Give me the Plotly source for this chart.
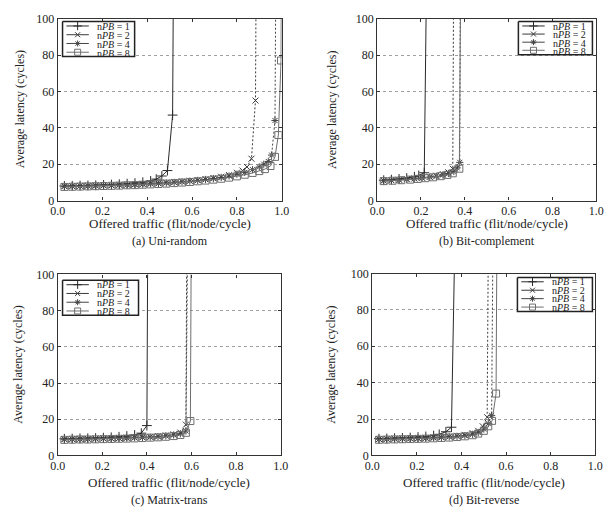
import plotly.graph_objects as go

# ---------------- data ----------------
labels = ["n<i>PB</i> = 1", "n<i>PB</i> = 2", "n<i>PB</i> = 4", "n<i>PB</i> = 8"]
captions = ["(a) Uni-random", "(b) Bit-complement", "(c) Matrix-trans", "(d) Bit-reverse"]
x_ticks = [0.0, 0.2, 0.4, 0.6, 0.8, 1.0]
y_ticks = [0, 20, 40, 60, 80, 100]

# (a) Uni-random
a1_x = [0.03, 0.065, 0.10, 0.135, 0.17, 0.205, 0.24, 0.275, 0.31, 0.345, 0.38, 0.415, 0.44, 0.465, 0.49, 0.513, 0.518]
a1_y = [8.0, 8.1, 8.2, 8.3, 8.4, 8.6, 8.8, 9.0, 9.3, 9.6, 10.1, 10.8, 11.8, 13.5, 16.5, 47, 150]
a2_x = [0.03, 0.065, 0.10, 0.135, 0.17, 0.205, 0.24, 0.275, 0.31, 0.345, 0.38, 0.415, 0.45, 0.485, 0.52, 0.555, 0.59, 0.625, 0.66, 0.695, 0.73, 0.765, 0.80, 0.825, 0.845, 0.865, 0.883, 0.887]
a2_y = [8.0, 8.0, 8.1, 8.2, 8.3, 8.4, 8.5, 8.7, 8.8, 9.0, 9.2, 9.4, 9.6, 9.9, 10.2, 10.5, 10.9, 11.3, 11.8, 12.4, 13.1, 14.0, 15.3, 16.5, 18.5, 23, 55, 150]
a4_x = [0.03, 0.065, 0.10, 0.135, 0.17, 0.205, 0.24, 0.275, 0.31, 0.345, 0.38, 0.415, 0.45, 0.485, 0.52, 0.555, 0.59, 0.625, 0.66, 0.695, 0.73, 0.765, 0.80, 0.835, 0.87, 0.90, 0.92, 0.94, 0.955, 0.97, 0.975]
a4_y = [7.8, 7.9, 8.0, 8.0, 8.1, 8.2, 8.3, 8.5, 8.6, 8.8, 9.0, 9.2, 9.4, 9.7, 10.0, 10.3, 10.7, 11.1, 11.6, 12.1, 12.7, 13.5, 14.5, 15.5, 17.0, 18.5, 20.0, 21.5, 25, 44, 150]
a8_x = [0.03, 0.065, 0.10, 0.135, 0.17, 0.205, 0.24, 0.275, 0.31, 0.345, 0.38, 0.415, 0.45, 0.485, 0.52, 0.555, 0.59, 0.625, 0.66, 0.695, 0.73, 0.765, 0.80, 0.835, 0.87, 0.90, 0.925, 0.95, 0.97, 0.985, 0.997, 1.0]
a8_y = [7.5, 7.6, 7.7, 7.8, 7.9, 8.0, 8.1, 8.2, 8.4, 8.5, 8.7, 8.9, 9.1, 9.3, 9.6, 9.9, 10.2, 10.6, 11.0, 11.5, 12.0, 12.6, 13.3, 14.2, 15.2, 16.2, 17.3, 19, 24, 36, 77, 150]

# (b) Bit-complement
b1_x = [0.03, 0.065, 0.10, 0.135, 0.17, 0.19, 0.215, 0.228]
b1_y = [11.2, 11.5, 11.9, 12.4, 13.1, 13.8, 15.3, 150]
b2_x = [0.03, 0.065, 0.10, 0.135, 0.17, 0.205, 0.24, 0.27, 0.30, 0.325, 0.345, 0.35]
b2_y = [11.0, 11.2, 11.5, 11.8, 12.2, 12.6, 13.1, 13.7, 14.5, 15.5, 17.5, 150]
b4_x = [0.03, 0.065, 0.10, 0.135, 0.17, 0.205, 0.24, 0.27, 0.30, 0.325, 0.35, 0.365, 0.377, 0.38]
b4_y = [10.9, 11.1, 11.4, 11.7, 12.0, 12.4, 12.9, 13.4, 14.1, 14.9, 16.0, 18.0, 21.0, 150]
b8_x = [0.03, 0.07, 0.11, 0.15, 0.185, 0.22, 0.255, 0.29, 0.32, 0.345, 0.375, 0.383]
b8_y = [10.7, 10.9, 11.2, 11.5, 11.9, 12.3, 12.8, 13.4, 14.1, 15.0, 17.5, 150]

# (c) Matrix-trans
c1_x = [0.03, 0.065, 0.10, 0.135, 0.17, 0.205, 0.24, 0.275, 0.31, 0.345, 0.375, 0.40, 0.405]
c1_y = [9.2, 9.3, 9.4, 9.5, 9.6, 9.8, 10.0, 10.3, 10.7, 11.3, 12.3, 16.5, 150]
c2_x = [0.03, 0.065, 0.10, 0.135, 0.17, 0.205, 0.24, 0.275, 0.31, 0.345, 0.38, 0.415, 0.45, 0.485, 0.52, 0.55, 0.575, 0.58]
c2_y = [9.0, 9.1, 9.2, 9.2, 9.3, 9.4, 9.5, 9.6, 9.8, 9.9, 10.1, 10.3, 10.6, 11.0, 11.6, 12.6, 17.0, 150]
c4_x = [0.03, 0.065, 0.10, 0.135, 0.17, 0.205, 0.24, 0.275, 0.31, 0.345, 0.38, 0.415, 0.45, 0.485, 0.52, 0.55, 0.575, 0.585]
c4_y = [8.9, 9.0, 9.0, 9.1, 9.2, 9.3, 9.4, 9.5, 9.6, 9.8, 9.9, 10.1, 10.4, 10.8, 11.3, 12.0, 13.5, 150]
c8_x = [0.03, 0.065, 0.10, 0.135, 0.17, 0.205, 0.24, 0.275, 0.31, 0.345, 0.38, 0.415, 0.45, 0.485, 0.52, 0.55, 0.575, 0.595, 0.60]
c8_y = [8.6, 8.7, 8.8, 8.8, 8.9, 9.0, 9.1, 9.2, 9.3, 9.4, 9.6, 9.8, 10.0, 10.3, 10.7, 11.3, 12.5, 19.0, 150]

# (d) Bit-reverse
d1_x = [0.03, 0.065, 0.10, 0.135, 0.17, 0.205, 0.24, 0.275, 0.30, 0.33, 0.355, 0.375]
d1_y = [9.2, 9.3, 9.5, 9.6, 9.8, 10.1, 10.4, 10.9, 11.6, 13.0, 15.5, 150]
d2_x = [0.03, 0.065, 0.10, 0.135, 0.17, 0.205, 0.24, 0.275, 0.31, 0.345, 0.38, 0.415, 0.45, 0.475, 0.495, 0.515, 0.522]
d2_y = [9.0, 9.1, 9.2, 9.3, 9.4, 9.5, 9.7, 9.9, 10.1, 10.4, 10.8, 11.3, 12.2, 13.5, 16.0, 21.0, 150]
d4_x = [0.03, 0.065, 0.10, 0.135, 0.17, 0.205, 0.24, 0.275, 0.31, 0.345, 0.38, 0.415, 0.45, 0.475, 0.50, 0.52, 0.535, 0.543]
d4_y = [8.9, 9.0, 9.1, 9.2, 9.3, 9.4, 9.5, 9.7, 9.9, 10.2, 10.5, 10.9, 11.6, 12.6, 14.5, 17.5, 22.0, 150]
d8_x = [0.03, 0.065, 0.10, 0.135, 0.17, 0.205, 0.24, 0.275, 0.31, 0.345, 0.38, 0.415, 0.45, 0.475, 0.50, 0.52, 0.537, 0.555, 0.56]
d8_y = [8.6, 8.7, 8.8, 8.9, 9.0, 9.1, 9.2, 9.4, 9.6, 9.8, 10.1, 10.5, 11.1, 12.0, 13.5, 16.0, 19.0, 34.0, 150]

panels = [
    [(a1_x, a1_y), (a2_x, a2_y), (a4_x, a4_y), (a8_x, a8_y)],
    [(b1_x, b1_y), (b2_x, b2_y), (b4_x, b4_y), (b8_x, b8_y)],
    [(c1_x, c1_y), (c2_x, c2_y), (c4_x, c4_y), (c8_x, c8_y)],
    [(d1_x, d1_y), (d2_x, d2_y), (d4_x, d4_y), (d8_x, d8_y)],
]

# ---------------- styling ----------------
W, H = 616, 513
FONT = "Liberation Serif"
# plot-area pixel boxes (left, right, top, bottom)
boxes = [(51, 281, 12, 199), (379, 604, 12, 199), (51, 280, 275, 461), (374, 603, 274, 461)]
# legend boxes (left, right, top, bottom) in pixels
legend_boxes = [(56, 130, 15, 51), (524, 600, 15, 49), (56, 134, 281, 317), (523, 600, 278, 313)]
ytitle_x = [12, 332, 10, 332]
xtitle_y = [223, 223, 489, 489]
caption_y = [241, 241, 507, 507]

line_colors = ["#2a2a2a", "#3a3a3a", "#444444", "#6e6e6e"]
dashes = ["solid", "2px,2px", "2px,2px", "solid"]
symbols = ["cross-thin-open", "x-thin-open", "asterisk-open", "square-open"]
msizes = [7, 6, 6, 7]

fig = go.Figure()
annotations = []
for p, series in enumerate(panels):
    xa = "x" if p == 0 else f"x{p+1}"
    ya = "y" if p == 0 else f"y{p+1}"
    for s, (xs, ys) in enumerate(series):
        fig.add_trace(go.Scatter(
            x=xs, y=ys, xaxis=xa, yaxis=ya, name=labels[s], showlegend=False,
            mode="lines+markers",
            line=dict(color=line_colors[s], width=1, dash=dashes[s]),
            marker=dict(symbol=symbols[s], size=msizes[s], color=line_colors[s],
                        line=dict(width=1, color=line_colors[s])),
        ))

# compact legends drawn on a full-page overlay subplot measured in pixels
for p in range(4):
    ll, lr, lt, lb = legend_boxes[p]
    fig.add_trace(go.Scatter(
        x=[ll, lr, lr, ll, ll], y=[lt, lt, lb, lb, lt], xaxis="x5", yaxis="y5",
        mode="lines", fill="toself", fillcolor="white",
        line=dict(color="#222", width=1.5), showlegend=False, hoverinfo="skip"))
    step = (lb - lt - 9) / 3
    rows = []
    for s in range(4):
        py = lt + 4.5 + step * s
        fig.add_trace(go.Scatter(
            x=[ll + 4, ll + 27], y=[py, py], xaxis="x5", yaxis="y5", mode="lines",
            line=dict(color=line_colors[s], width=1), showlegend=False, hoverinfo="skip"))
        fig.add_trace(go.Scatter(
            x=[ll + 15.5], y=[py], xaxis="x5", yaxis="y5", mode="markers",
            marker=dict(symbol=symbols[s], size=msizes[s] - 1, color=line_colors[s],
                        line=dict(width=1, color=line_colors[s])),
            showlegend=False, hoverinfo="skip"))
        rows.append(f"<span style='font-size:10px'>{labels[s]}</span>")
    # one multi-line text per legend; small base size gives the tight row pitch
    annotations.append(dict(text="<br>".join(rows), x=(ll + 33) / W, y=1 - ((lt + lb) / 2 + 0.5) / H,
                            xref="paper", yref="paper", showarrow=False, align="left",
                            xanchor="left", yanchor="middle",
                            font=dict(family=FONT, size=step / 1.3, color="#222")))

layout = dict(width=W, height=H, margin=dict(l=0, r=0, t=0, b=0),
              paper_bgcolor="white", plot_bgcolor="rgba(0,0,0,0)",
              font=dict(family=FONT, size=12, color="#222"), showlegend=False)
for p in range(4):
    l, r, t, b = boxes[p]
    sfx = "" if p == 0 else str(p + 1)
    layout["xaxis" + sfx] = dict(
        domain=[l / W, r / W], range=[0, 1], anchor="y" + sfx,
        tickvals=x_ticks, ticktext=[f"{v:.1f}" for v in x_ticks],
        ticks="inside", ticklen=3, tickcolor="#333", mirror="allticks",
        showline=True, linecolor="#333", linewidth=1.2, showgrid=False,
        zeroline=False, ticklabelstandoff=-1,
        tickfont=dict(family=FONT, size=12, color="#222"))
    layout["yaxis" + sfx] = dict(
        domain=[1 - b / H, 1 - t / H], range=[0, 100], anchor="x" + sfx,
        tickvals=y_ticks, ticks="inside", ticklen=3, tickcolor="#333", mirror="allticks",
        showline=True, linecolor="#333", linewidth=1.2, showgrid=True,
        gridcolor="#a0a0a0", griddash="dot", gridwidth=1,
        zeroline=False, ticklabelstandoff=0,
        tickfont=dict(family=FONT, size=12, color="#222"))
    cx = (l + r) / 2
    annotations.append(dict(text="Offered traffic (flit/node/cycle)", x=cx / W, y=1 - xtitle_y[p] / H,
                            xref="paper", yref="paper", showarrow=False, xanchor="center", yanchor="middle",
                            font=dict(family=FONT, size=13, color="#222")))
    annotations.append(dict(text=captions[p], x=cx / W, y=1 - caption_y[p] / H,
                            xref="paper", yref="paper", showarrow=False, xanchor="center", yanchor="middle",
                            font=dict(family=FONT, size=12, color="#222")))
    annotations.append(dict(text="Average latency (cycles)", x=ytitle_x[p] / W, y=1 - ((t + b) / 2) / H,
                            xref="paper", yref="paper", showarrow=False, xanchor="center", yanchor="middle",
                            textangle=-90, font=dict(family=FONT, size=12, color="#222")))
layout["xaxis5"] = dict(domain=[0, 1], range=[0, W], anchor="y5", visible=False, fixedrange=True)
layout["yaxis5"] = dict(domain=[0, 1], range=[H, 0], anchor="x5", visible=False, fixedrange=True)
layout["annotations"] = annotations
fig.update_layout(**layout)
fig.write_html("out.html")
